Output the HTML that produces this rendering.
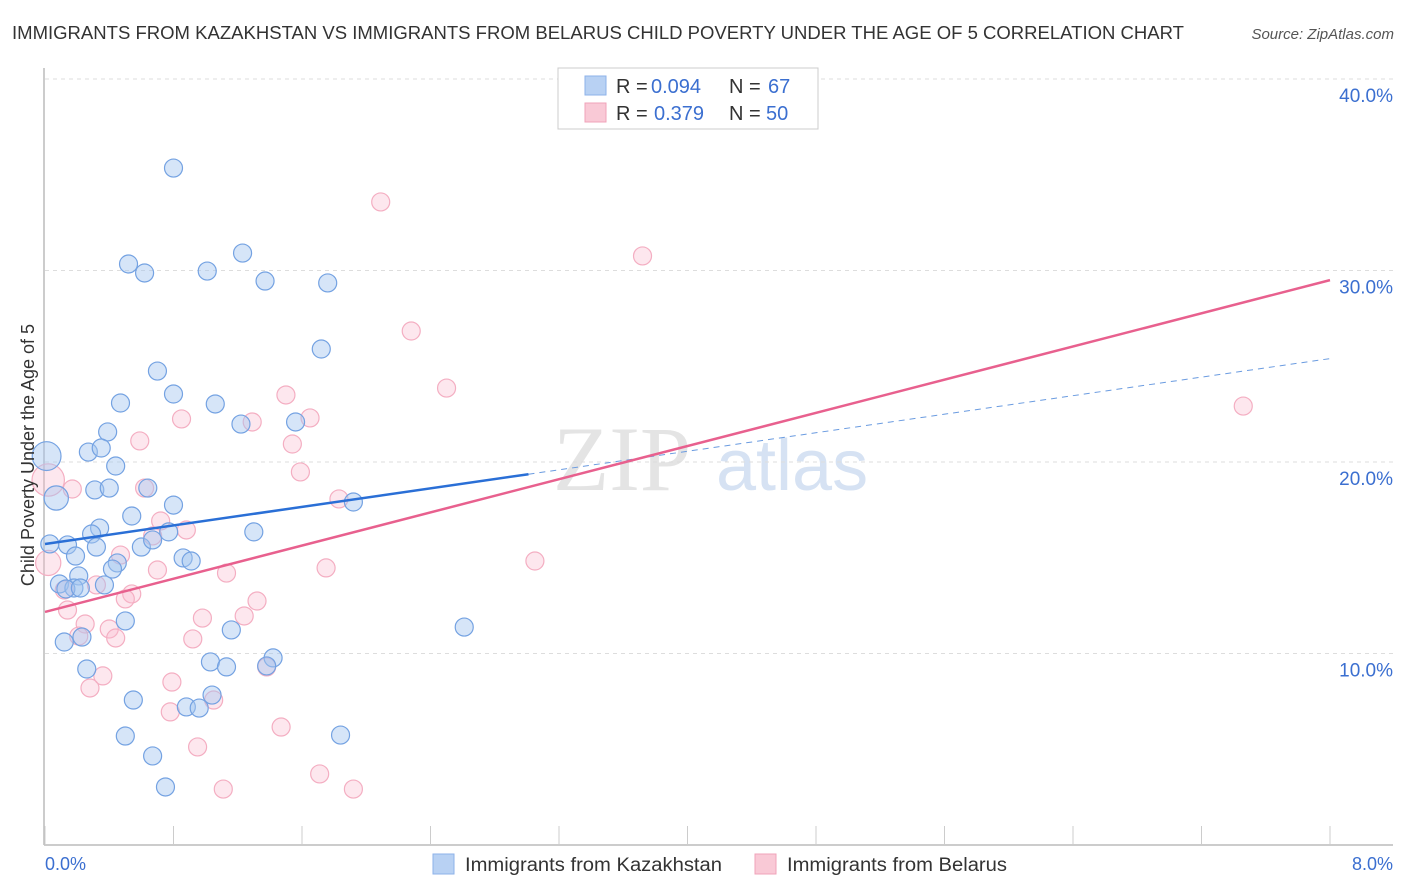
<!DOCTYPE html>
<html><head><meta charset="utf-8"><style>
body{margin:0;background:#fff;font-family:"Liberation Sans",sans-serif;}
</style></head><body>
<svg id="chart" width="1406" height="892" xmlns="http://www.w3.org/2000/svg" style="display:block">
<text x="12" y="39" font-size="18" fill="#333" textLength="1172" lengthAdjust="spacingAndGlyphs">IMMIGRANTS FROM KAZAKHSTAN VS IMMIGRANTS FROM BELARUS CHILD POVERTY UNDER THE AGE OF 5 CORRELATION CHART</text>
<text x="1394" y="39" font-size="15" fill="#555" font-style="italic" text-anchor="end">Source: ZipAtlas.com</text>
<g>
<text x="553" y="490" font-size="92" font-family="Liberation Serif,serif" fill="#e4e4e4">ZIP</text>
<text x="716" y="490" font-size="72" fill="#d6e2f3">atlas</text>
</g>
<g id="grid"></g>
<g id="axes"></g>
<g id="marks"></g>
<g id="lines"></g>
<text transform="translate(34,455) rotate(-90)" font-size="18" fill="#333" text-anchor="middle">Child Poverty Under the Age of 5</text>
<text x="45" y="870" font-size="18" fill="#3b6fd0">0.0%</text>
<text x="1393" y="870" font-size="18" fill="#3b6fd0" text-anchor="end">8.0%</text>
<g>
<rect x="558" y="68" width="260" height="61" fill="#fff" stroke="#ccc"/>
<rect x="585" y="76" width="21" height="19" fill="#b8d1f3" stroke="#8db2ea"/>
<rect x="585" y="103" width="21" height="19" fill="#f9c9d6" stroke="#f0a3b9"/>
<text x="616" y="93" font-size="20" fill="#333">R = <tspan x="651" fill="#3b6fd0">0.094</tspan><tspan x="729">N = </tspan><tspan x="768" fill="#3b6fd0">67</tspan></text>
<text x="616" y="120" font-size="20" fill="#333">R = <tspan x="654" fill="#3b6fd0">0.379</tspan><tspan x="729">N = </tspan><tspan x="766" fill="#3b6fd0">50</tspan></text>
</g>
<g>
<rect x="433" y="854" width="21" height="20" fill="#b8d1f3" stroke="#8db2ea"/>
<text x="465" y="871" font-size="19" fill="#333" textLength="257" lengthAdjust="spacingAndGlyphs">Immigrants from Kazakhstan</text>
<rect x="755" y="854" width="21" height="20" fill="#f9c9d6" stroke="#f0a3b9"/>
<text x="787" y="871" font-size="19" fill="#333" textLength="220" lengthAdjust="spacingAndGlyphs">Immigrants from Belarus</text>
</g>
</svg>
<script>
const yTicks=[10,20,30,40];
const yTickLabels=["10.0%","20.0%","30.0%","40.0%"];
const xTicks=[0,0.8,1.6,2.4,3.2,4,4.8,5.6,6.4,7.2,8];
const kazX=[0.80,1.23,0.52,0.62,1.01,1.37,1.76,1.72,0.70,0.80,0.47,1.06,1.22,1.56,0.39,0.27,0.35,0.44,0.01,0.31,0.40,0.64,0.07,0.54,0.80,1.92,0.34,0.29,0.14,0.03,0.32,0.60,0.67,0.77,1.30,0.86,0.91,0.19,0.45,0.42,0.21,0.09,0.18,0.13,0.22,0.37,0.50,1.16,2.61,0.12,0.23,1.03,1.13,1.42,1.38,0.26,0.55,1.04,0.88,0.96,0.50,1.84,0.67,0.75];
const kazY=[35.35,30.91,30.34,29.87,29.97,29.45,29.35,25.90,24.75,23.55,23.08,23.03,21.98,22.09,21.57,20.52,20.73,19.79,20.31,18.54,18.64,18.64,18.12,17.18,17.75,17.91,16.55,16.24,15.67,15.72,15.56,15.56,15.93,16.35,16.35,14.99,14.83,15.09,14.73,14.41,14.05,13.63,13.42,13.37,13.42,13.58,11.70,11.23,11.38,10.60,10.86,9.56,9.30,9.77,9.35,9.19,7.57,7.83,7.21,7.15,5.69,5.74,4.65,3.03];
const kazSize=[1,1,1,1,1,1,1,1,1,1,1,1,1,1,1,1,1,1,1.6,1,1,1,1.35,1,1,1,1,1,1,1,1,1,1,1,1,1,1,1,1,1,1,1,1,1,1,1,1,1,1,1,1,1,1,1,1,1,1,1,1,1,1,1,1,1];
const belX=[2.09,3.72,2.28,2.50,1.50,7.46,0.85,1.65,1.29,0.59,1.54,1.59,0.02,0.17,0.62,1.83,0.72,0.88,0.67,0.02,0.47,3.05,0.70,1.75,1.13,0.32,0.12,0.54,0.50,1.32,1.24,0.14,0.98,0.25,0.40,0.21,0.44,0.92,1.38,0.28,0.36,0.79,1.05,0.78,0.95,1.47,1.71,1.92,1.11];
const belY=[33.58,30.76,26.84,23.86,23.50,22.92,22.25,22.30,22.09,21.10,20.94,19.48,19.06,18.59,18.64,18.07,16.92,16.45,16.14,14.73,15.14,14.83,14.36,14.47,14.20,13.58,13.32,13.11,12.85,12.74,11.96,12.27,11.85,11.54,11.28,10.91,10.81,10.76,9.30,8.20,8.83,8.51,7.57,6.95,5.12,6.16,3.71,2.92,2.92];
const belSize=[1,1,1,1,1,1,1,1,1,1,1,1,1.8,1,1,1,1,1,1,1.4,1,1,1,1,1,1,1,1,1,1,1,1,1,1,1,1,1,1,1,1,1,1,1,1,1,1,1,1,1];
const kazFit=[15.72,1.21]; const kazSolidEnd=3.01;
const belFit=[12.17,2.166];
const NS="http://www.w3.org/2000/svg";
const X0=45,X1=1330,Y0=845,PPY=19.15;
function sx(v){return X0+v/8*(X1-X0);}
function sy(v){return Y0-v*PPY;}
function mk(t,a,p){const e=document.createElementNS(NS,t);for(const k in a)e.setAttribute(k,a[k]);p.appendChild(e);return e;}
const grid=document.getElementById('grid'),axes=document.getElementById('axes'),marks=document.getElementById('marks'),lines=document.getElementById('lines');
yTicks.forEach((t,i)=>{
 const l=mk('line',{x1:45,x2:1393,y1:sy(t),y2:sy(t),stroke:'#ddd','stroke-dasharray':'4,4'},grid);
 
 
 const tx=mk('text',{x:1393,y:sy(t)+23,'font-size':19,fill:'#3b6fd0','text-anchor':'end'},axes);
 tx.textContent=yTickLabels[i];
 
 
});
const ya=mk('line',{x1:44,x2:44,y1:68,y2:845,stroke:'#bbb','stroke-width':1.5},axes);


const xa=mk('line',{x1:44,x2:1393,y1:845,y2:845,stroke:'#bbb','stroke-width':1.5},axes);


xTicks.forEach(t=>{
 const l=mk('line',{x1:sx(t),x2:sx(t),y1:826,y2:845,stroke:'#ccc'},axes);
 
 
});
function pts(xs,ys,ss,fill,stroke,name){
 xs.forEach((x,i)=>{
  const c=mk('circle',{cx:sx(x),cy:sy(ys[i]),r:9*ss[i],fill:fill,stroke:stroke,'stroke-width':1.2},marks);
  
  
 });
}
pts(belX,belY,belSize,'rgba(248,185,205,0.35)','#f4aec2','belarus-point');
pts(kazX,kazY,kazSize,'rgba(165,198,240,0.45)','#74a2e2','kazakhstan-point');
const k1=mk('line',{x1:sx(0),y1:sy(kazFit[0]),x2:sx(kazSolidEnd),y2:sy(kazFit[0]+kazFit[1]*kazSolidEnd),stroke:'#2a6fd6','stroke-width':2.5},lines);


const k2=mk('line',{x1:sx(kazSolidEnd),y1:sy(kazFit[0]+kazFit[1]*kazSolidEnd),x2:sx(8),y2:sy(kazFit[0]+kazFit[1]*8),stroke:'#6a9be0','stroke-width':1,'stroke-dasharray':'6,5'},lines);


const b1=mk('line',{x1:sx(0),y1:sy(belFit[0]),x2:sx(8),y2:sy(belFit[0]+belFit[1]*8),stroke:'#e8608e','stroke-width':2.5},lines);


</script>
</body></html>
